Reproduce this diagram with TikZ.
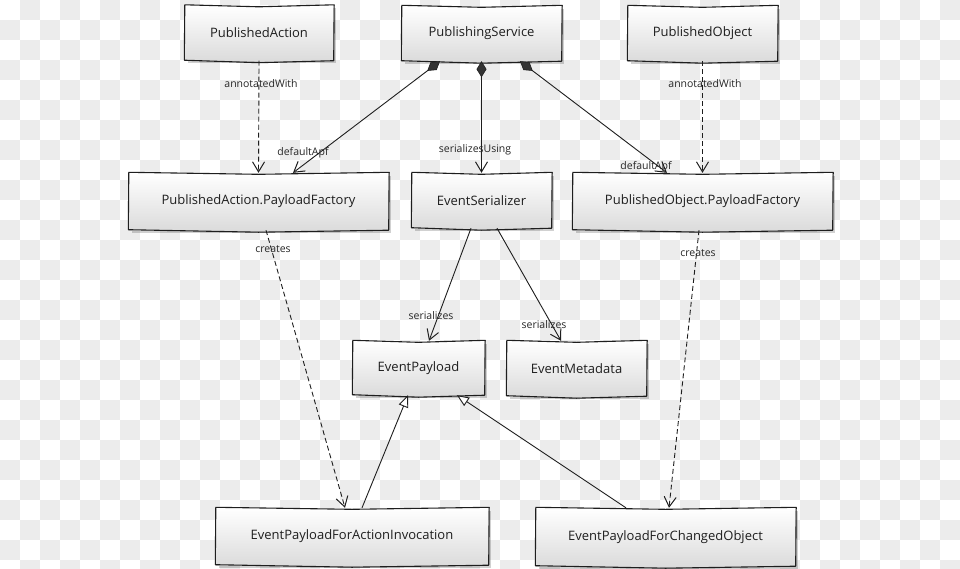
\documentclass[tikz,border=0pt]{standalone}
\usepackage{fontspec}
\setmainfont{Open Sans}
\usetikzlibrary{arrows.meta,shadows}
\definecolor{checkgray}{HTML}{ECECEC}
\definecolor{linegray}{HTML}{1E1E1E}
\tikzset{
  umlbox/.style={rectangle, draw=none, top color=white, bottom color=black!14,
    drop shadow={shadow xshift=2.5pt, shadow yshift=-2.5pt, opacity=0.18, fill=black},
    inner sep=0pt, font=\fontsize{13}{15}\selectfont, text=linegray},
  boxline/.style={draw=linegray, line width=1.1pt, line join=round},
  lbl/.style={font=\fontsize{10.5}{12}\selectfont, text=black!85, inner sep=0pt},
  conn/.style={draw=linegray, line width=0.9pt},
  dep/.style={conn, dashed, dash pattern=on 5pt off 3pt, -{Straight Barb[length=10pt,width=12pt,line width=1pt]}},
  comp/.style={conn, {Diamond[length=16pt,width=10pt,fill=black!80,line width=0.6pt]}-{Straight Barb[length=10pt,width=12pt,line width=1pt]}},
  assoc/.style={conn, -{Straight Barb[length=10pt,width=12pt,line width=1pt]}},
  gen/.style={conn, -{Triangle[length=12pt,width=10pt,fill=white,line width=0.9pt]}}
}
\newcommand\skbox[1]{\draw[boxline] ([shift={(0,-0.5)}]#1.north west) -- ([shift={(0,1.5)}]#1.north) -- ([shift={(1,-0.5)}]#1.north east) -- ([shift={(0.5,0)}]#1.south east) -- ([shift={(0,2)}]#1.south) -- ([shift={(-0.5,-0.5)}]#1.south west) -- cycle;}
\begin{document}
\begin{tikzpicture}[x=1pt,y=-1pt]
\useasboundingbox (0,0) rectangle (960,568);
\begin{scope}
\clip (0,0) rectangle (960,568);
\fill[white] (0,0) rectangle (960,568);
\foreach \i in {0,...,47}{\foreach \j in {0,...,28}{
  \pgfmathtruncatemacro\s{mod(\i+\j,2)}
  \ifnum\s=1 \fill[checkgray] (\i*20,\j*20) rectangle ++(20,20);\fi}}
\end{scope}

% boxes
\node[umlbox, minimum width=148pt, minimum height=55pt] (pa) at (259,33) {PublishedAction};
\node[umlbox, minimum width=159pt, minimum height=55pt] (ps) at (481.5,33.5) {PublishingService};
\node[umlbox, minimum width=149pt, minimum height=55pt] (po) at (702.5,33.5) {PublishedObject};
\node[umlbox, minimum width=259pt, minimum height=57pt] (papf) at (258.5,201.5) {PublishedAction.PayloadFactory};
\node[umlbox, minimum width=139pt, minimum height=55pt] (es) at (481.5,200.5) {EventSerializer};
\node[umlbox, minimum width=259pt, minimum height=57pt] (popf) at (702.5,201.5) {PublishedObject.PayloadFactory};
\node[umlbox, minimum width=131pt, minimum height=54pt] (ep) at (418.5,368) {EventPayload};
\node[umlbox, minimum width=139pt, minimum height=55pt] (em) at (576.5,368.5) {EventMetadata};
\node[umlbox, minimum width=272pt, minimum height=57pt] (epai) at (352,536.5) {EventPayloadForActionInvocation};
\node[umlbox, minimum width=259pt, minimum height=58pt] (epco) at (665.5,537) {EventPayloadForChangedObject};
\foreach \b in {pa,ps,po,papf,es,popf,ep,em,epai,epco}{\skbox{\b}}

% connectors
\draw[dep] (pa.south) -- (papf.north);
\draw[dep] (po.south) -- (popf.north);
\draw[comp] ([xshift=-41.5pt]ps.south) -- ([xshift=34.5pt]papf.north);
\draw[comp] (ps.south) -- (es.north);
\draw[comp] ([xshift=38.5pt]ps.south) -- ([xshift=-35.5pt]popf.north);
\draw[dep] ([xshift=7.5pt]papf.south) -- ([xshift=-7pt]epai.north);
\draw[dep] ([xshift=-3.5pt]popf.south) -- ([xshift=3.5pt]epco.north);
\draw[assoc] ([xshift=-10.5pt]es.south) -- ([xshift=10.5pt]ep.north);
\draw[assoc] ([xshift=15.5pt]es.south) -- ([xshift=-15.5pt]em.north);
\draw[gen] ([xshift=10pt]epai.north) -- ([xshift=-10.5pt]ep.south);
\draw[gen] ([xshift=-39.5pt]epco.north) -- ([xshift=38.5pt]ep.south);

% labels
\node[lbl] (l1) at (261,84) {annotatedWith};
\node[lbl] (l2) at (705,84) {annotatedWith};
\node[lbl] (l3) at (303,153) {defaultApf};
\node[lbl] (l4) at (475,150) {serializesUsing};
\node[lbl] (l5) at (646,167) {defaultApf};
\node[lbl] (l6) at (273,249) {creates};
\node[lbl] (l7) at (698,253) {creates};
\node[lbl] (l8) at (431,316) {serializes};
\node[lbl] (l9) at (544,325) {serializes};
\end{tikzpicture}
\end{document}
